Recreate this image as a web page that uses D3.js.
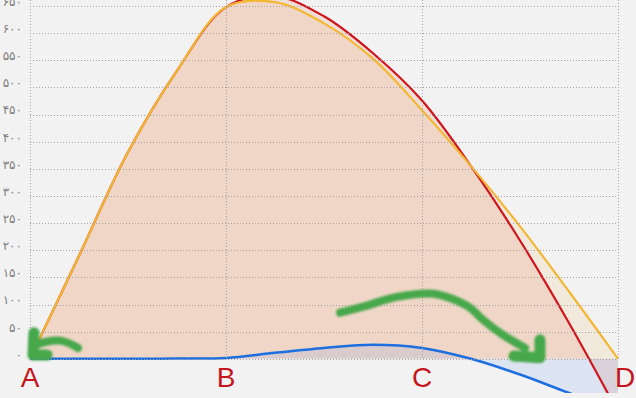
<!DOCTYPE html>
<html>
<head>
<meta charset="utf-8">
<script src="https://cdn.jsdelivr.net/npm/d3@7"></script>
<style>
  html, body { margin: 0; padding: 0; background: #f2f2f2; }
  svg { display: block; }
</style>
</head>
<body>
<svg id="chart" width="636" height="398"></svg>
<script>
const width = 636;
const height = 398;

// letters written under the chart, one per category
const categories = ['A', 'B', 'C', 'D'];

const xSteps = [0, 0.25, 0.5, 0.75, 1, 1.25, 1.5, 1.75, 2, 2.25, 2.5, 2.75, 3];
const orangeValues = [0, 190, 381, 531, 648, 657, 618, 553, 458, 355, 244, 124, 0];
const redValues = [0, 190, 381, 531, 648, 668, 631, 563, 476, 355, 218, 66, -98];
const blueValues = [0, 0, 0, 0.5, 1.5, 11, 20, 26, 20, 0, -29, -63, -96];

const yTicks = [0, 50, 100, 150, 200, 250, 300, 350, 400, 450, 500, 550, 600, 650];

// green hand drawn arrows, as [step, value] pairs
const arrowLeftShaft = [[0.245, 20], [0.163, 33], [0.077, 31], [0.031, 26]];
const arrowLeftHead = [[0.02, 48], [0.015, 7], [0.087, 7]];
const arrowRightShaft = [[1.582, 85], [1.699, 96], [1.872, 114], [2.056, 120], [2.143, 112],
  [2.245, 94], [2.311, 72], [2.413, 44], [2.526, 20]];
const arrowRightHead = [[2.469, 5], [2.602, 2], [2.602, 35]];

const faDigits = '۰۱۲۳۴۵۶۷۸۹';
const toPersian = v => String(v).replace(/\d/g, d => faDigits[d]);

const xScale = d3.scaleLinear()
  .domain([0, 3])
  .range([30, 618]);

const yScale = d3.scaleLinear()
  .domain([-63, 650])
  .range([393, 6]);

const svg = d3.select('#chart');
const defs = svg.append('defs');

defs.append('clipPath')
  .attr('id', 'plot-clip')
  .append('rect')
  .attr('x', xScale(0))
  .attr('y', 0)
  .attr('width', xScale(3) - xScale(0) + 20)
  .attr('height', yScale(-63));

defs.append('filter')
  .attr('id', 'soft')
  .append('feGaussianBlur')
  .attr('stdDeviation', 0.9);

const toPoints = values => values.map((v, i) => ({ x: xSteps[i], y: v }));
const smooth = d3.curveCatmullRom.alpha(0.5);

const area = d3.area()
  .x(d => xScale(d.x))
  .y0(yScale(0))
  .y1(d => yScale(d.y))
  .curve(smooth);

const line = d3.line()
  .x(d => xScale(d.x))
  .y(d => yScale(d.y))
  .curve(smooth);

const plot = svg.append('g').attr('clip-path', 'url(#plot-clip)');

// fills, blue last so it tints the others
plot.append('path')
  .attr('d', area(toPoints(orangeValues)))
  .attr('fill', 'rgb(245,200,140)')
  .attr('fill-opacity', 0.2);

plot.append('path')
  .attr('d', area(toPoints(redValues)))
  .attr('fill', 'rgb(230,140,110)')
  .attr('fill-opacity', 0.2);

plot.append('path')
  .attr('d', area(toPoints(blueValues)))
  .attr('fill', 'rgb(120,160,240)')
  .attr('fill-opacity', 0.18);

// dotted grid
const grid = svg.append('g')
  .attr('stroke', '#a3a3a3')
  .attr('stroke-width', 1)
  .attr('stroke-dasharray', '1,2');

grid.selectAll('line.h')
  .data(yTicks)
  .join('line')
  .attr('class', 'h')
  .attr('x1', xScale(0))
  .attr('x2', xScale(3))
  .attr('y1', d => Math.round(yScale(d)) + 0.5)
  .attr('y2', d => Math.round(yScale(d)) + 0.5);

grid.selectAll('line.v')
  .data(categories)
  .join('line')
  .attr('class', 'v')
  .attr('x1', (d, i) => Math.round(xScale(i)) + 0.5)
  .attr('x2', (d, i) => Math.round(xScale(i)) + 0.5)
  .attr('y1', 0)
  .attr('y2', yScale(0));

// lines
plot.append('path')
  .attr('d', line(toPoints(redValues)))
  .attr('fill', 'none')
  .attr('stroke', '#d0141c')
  .attr('stroke-width', 2.2);

plot.append('path')
  .attr('d', line(toPoints(orangeValues)))
  .attr('fill', 'none')
  .attr('stroke', '#f4b733')
  .attr('stroke-width', 2.2);

plot.append('path')
  .attr('d', line(toPoints(blueValues)))
  .attr('fill', 'none')
  .attr('stroke', '#1d6fe0')
  .attr('stroke-width', 2.5);

// y axis with persian digits
const yAxis = d3.axisLeft(yScale)
  .tickValues(yTicks)
  .tickSize(0)
  .tickPadding(8)
  .tickFormat(toPersian);

const yAxisG = svg.append('g')
  .attr('transform', `translate(${xScale(0)},0)`)
  .call(yAxis);

yAxisG.select('.domain').remove();
yAxisG.selectAll('text')
  .attr('dy', '-0.05em')
  .attr('fill', '#7e7e7e')
  .style('font-family', '"DejaVu Sans", sans-serif')
  .style('font-size', '12px');

// big red letters, the last one pushed right of its gridline
svg.append('g')
  .selectAll('text')
  .data(categories)
  .join('text')
  .attr('x', (d, i) => i === categories.length - 1 ? width - 11 : xScale(i))
  .attr('y', yScale(0) + 28)
  .attr('text-anchor', 'middle')
  .attr('fill', '#c4161c')
  .style('font-family', '"Liberation Sans", Arial, sans-serif')
  .style('font-size', '28px')
  .text(d => d);

// green arrows
const arrowLine = d3.line()
  .x(d => xScale(d[0]))
  .y(d => yScale(d[1]))
  .curve(d3.curveCatmullRom.alpha(0.5));

const headLine = d3.line()
  .x(d => xScale(d[0]))
  .y(d => yScale(d[1]));

const arrows = svg.append('g')
  .attr('fill', 'none')
  .attr('stroke', '#47a84b')
  .attr('stroke-linecap', 'round')
  .attr('stroke-linejoin', 'round')
  .attr('filter', 'url(#soft)');

arrows.append('path').attr('d', arrowLine(arrowLeftShaft)).attr('stroke-width', 8);
arrows.append('path').attr('d', headLine(arrowLeftHead)).attr('stroke-width', 11);
arrows.append('path').attr('d', arrowLine(arrowRightShaft)).attr('stroke-width', 8);
arrows.append('path').attr('d', headLine(arrowRightHead)).attr('stroke-width', 11);
</script>
</body>
</html>
